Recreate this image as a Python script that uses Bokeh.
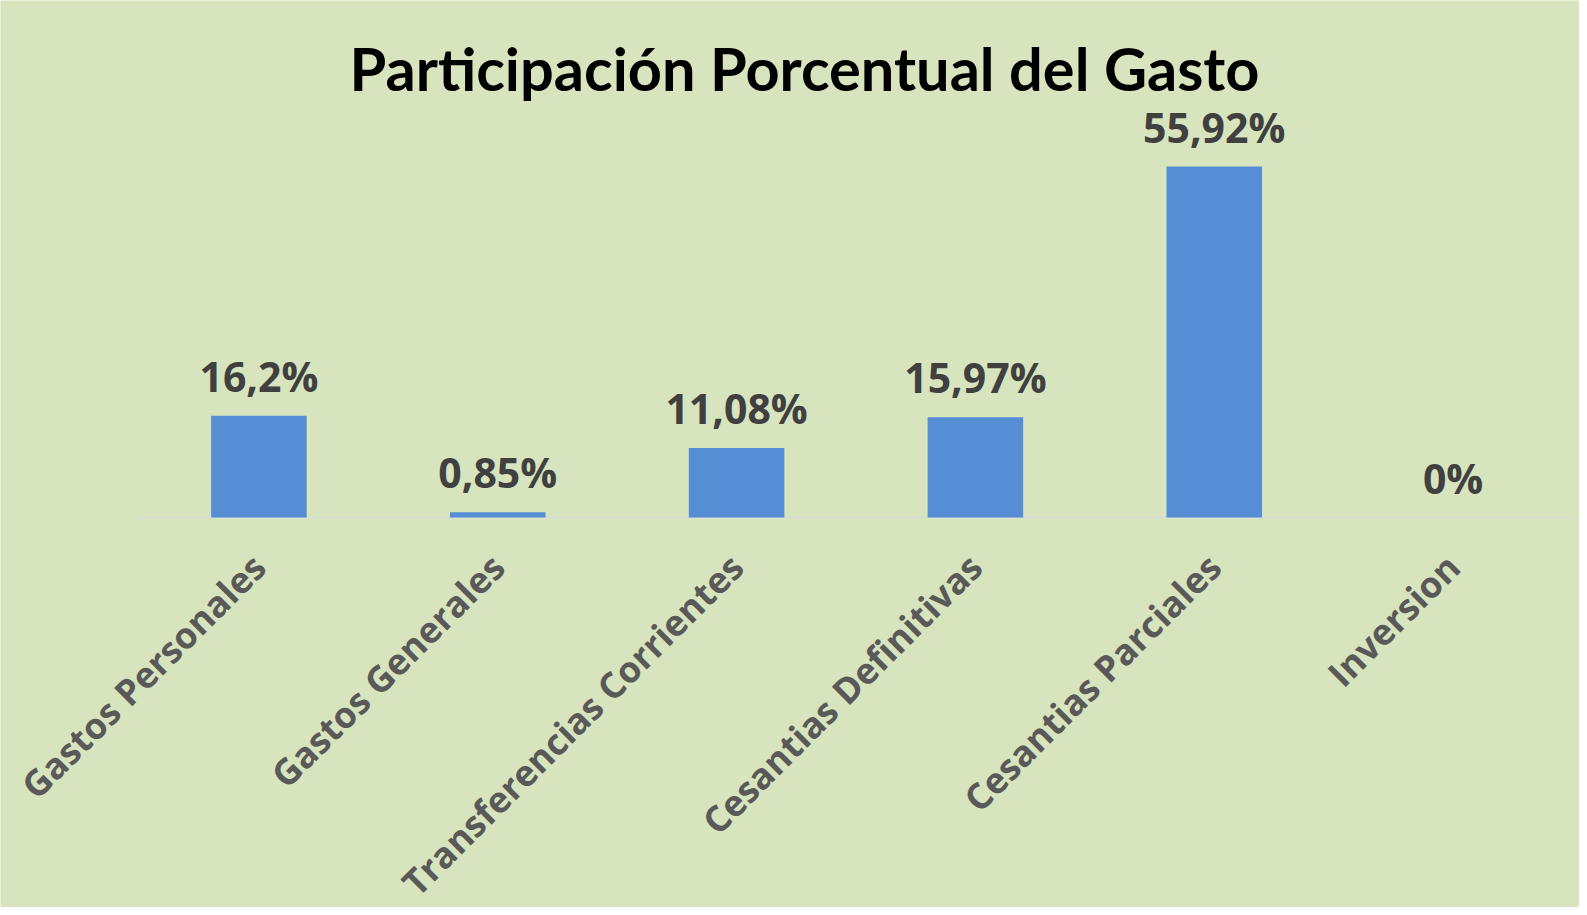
import math
from bokeh.plotting import figure
from bokeh.models import ColumnDataSource, LabelSet, Label, Range1d
from bokeh.core.properties import value
from bokeh.embed import file_html
from bokeh.resources import INLINE

categories = ["Gastos Personales", "Gastos Generales", "Transferencias Corrientes",
              "Cesantias Definitivas", "Cesantias Parciales", "Inversion"]
values = [16.2, 0.85, 11.08, 15.97, 55.92, 0.0]
labels = ["16,2%", "0,85%", "11,08%", "15,97%", "55,92%", "0%"]
title_text = "Participación Porcentual del Gasto"

BG = "#D7E4BD"
idx = list(range(len(categories)))
src = ColumnDataSource(dict(idx=idx, cat=categories, val=values, lab=labels))

W, H = 1579, 907
PLOT_LEFT, PLOT_RIGHT, BASE = 139, 1572, 517
slot = (PLOT_RIGHT - PLOT_LEFT) / len(categories)
ppu = (BASE - 166) / max(values)

p = figure(x_range=Range1d(-0.5 - PLOT_LEFT / slot, -0.5 + (W - PLOT_LEFT) / slot),
           y_range=Range1d(-(H - BASE) / ppu, BASE / ppu),
           width=W, height=H,
           output_backend="svg", toolbar_location=None,
           min_border_left=0, min_border_right=0,
           min_border_top=0, min_border_bottom=0)

p.background_fill_color = BG
p.border_fill_color = BG
p.outline_line_color = None
p.xaxis.visible = False
p.yaxis.visible = False
p.xgrid.grid_line_color = None
p.ygrid.grid_line_color = None

title = Label(x=804, y=67, x_units="canvas", y_units="canvas", text=title_text,
              text_align="center", text_baseline="alphabetic",
              text_font="Lato", text_font_size="59.5px", text_font_style="bold",
              text_color="#000000")
p.add_layout(title)

# category axis line
p.segment(x0=idx[0] - 0.5, x1=idx[-1] + 0.5, y0=0, y1=0,
          line_color="#D9D9D9", line_width=1.5)

p.vbar(x="idx", top="val", width=0.4, source=src, fill_color="#558ED5", line_color=None)

cat_lbl = LabelSet(x="idx", y=0, text="cat", source=src, angle=math.pi / 4,
                   text_align="right", text_baseline="middle",
                   x_offset=0, y_offset=-43,
                   text_font=value("Open Sans"), text_font_style="bold",
                   text_font_size="36px", text_color="#595959")
p.add_layout(cat_lbl)

lbl = LabelSet(x="idx", y="val", text="lab", source=src, text_align="center",
               text_baseline="alphabetic", y_offset=24,
               text_font=value("Open Sans"), text_font_style="bold",
               text_font_size="41px", text_color="#404040")
p.add_layout(lbl)

open("out.html", "w").write(file_html(p, INLINE))
